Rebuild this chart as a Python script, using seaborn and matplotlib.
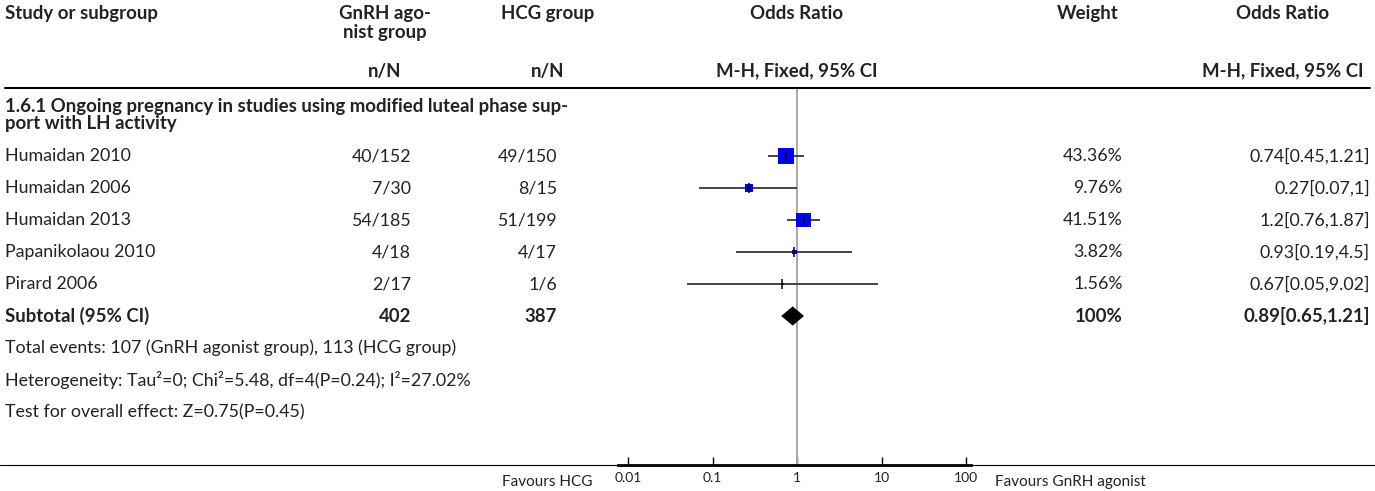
import numpy as np
import pandas as pd
import matplotlib.pyplot as plt
import seaborn as sns
from matplotlib.ticker import NullLocator

# =========================================================
# DATA
# =========================================================
studies = ["Humaidan 2010", "Humaidan 2006", "Humaidan 2013", "Papanikolaou 2010", "Pirard 2006"]
gnrh_events = [40, 7, 54, 4, 2]
gnrh_total = [152, 30, 185, 18, 17]
hcg_events = [49, 8, 51, 4, 1]
hcg_total = [150, 15, 199, 17, 6]
odds_ratio = [0.74, 0.27, 1.2, 0.93, 0.67]
ci_low = [0.45, 0.07, 0.76, 0.19, 0.05]
ci_high = [1.21, 1, 1.87, 4.5, 9.02]
weights = [43.36, 9.76, 41.51, 3.82, 1.56]
sub_or, sub_low, sub_high, sub_weight = 0.89, 0.65, 1.21, 100
axis_ticks = [0.01, 0.1, 1, 10, 100]
tick_labels = ["0.01", "0.1", "1", "10", "100"]

subgroup_title = "1.6.1 Ongoing pregnancy in studies using modified luteal phase sup-\nport with LH activity"
footer_lines = [
    "Total events: 107 (GnRH agonist group), 113 (HCG group)",
    "Heterogeneity: Tau\u00b2=0; Chi\u00b2=5.48, df=4(P=0.24); I\u00b2=27.02%",
    "Test for overall effect: Z=0.75(P=0.45)",
]

# =========================================================
# LAYOUT (pixels)
# =========================================================
W, H = 1375, 491
ROW0, STEP = 156, 32
AX_L, AX_R, AX_T, AX_B = 618, 971, 89, 465
PX_ONE, PX_DECADE = 797, 84.5
TXT = "#222222"
FS = 12.8
FSB = 13.4


def fmt(v):
    return f"{v:g}"


def ypx(i):
    return ROW0 + STEP * i


sns.set_theme(style="white")
plt.rcParams['font.family'] = ['Lato', 'DejaVu Sans']

fig = plt.figure(figsize=(W / 100, H / 100), dpi=100)
tab = fig.add_axes([0, 0, 1, 1])
tab.set_xlim(0, W)
tab.set_ylim(H, 0)
tab.axis('off')

# header
hdr = dict(fontsize=FSB, fontweight='bold', color=TXT, va='top')
tab.text(5, 5, "Study or subgroup", ha='left', **hdr)
tab.text(385, 5, "GnRH ago-\nnist group", ha='center', linespacing=1.12, **hdr)
tab.text(548, 5, "HCG group", ha='center', **hdr)
tab.text(797, 5, "Odds Ratio", ha='center', **hdr)
tab.text(1088, 5, "Weight", ha='center', **hdr)
tab.text(1283, 5, "Odds Ratio", ha='center', **hdr)
sub = dict(fontsize=FSB, fontweight='bold', color=TXT, va='center')
tab.text(385, 71, "n/N", ha='center', **sub)
tab.text(548, 71, "n/N", ha='center', **sub)
tab.text(797, 71, "M-H, Fixed, 95% CI", ha='center', **sub)
tab.text(1283, 71, "M-H, Fixed, 95% CI", ha='center', **sub)
tab.plot([5, 1370], [88, 88], color='black', lw=1.5)

tab.text(5, 115, subgroup_title, ha='left', va='center', fontsize=FSB,
         fontweight='bold', color=TXT, linespacing=1.02)

# study rows
row = dict(fontsize=FS, color=TXT, va='center')
for i, name in enumerate(studies):
    y = ypx(i)
    tab.text(5, y, name, ha='left', **row)
    tab.text(411, y, f"{gnrh_events[i]}/{gnrh_total[i]}", ha='right', **row)
    tab.text(557, y, f"{hcg_events[i]}/{hcg_total[i]}", ha='right', **row)
    tab.text(1123, y, f"{fmt(weights[i])}%", ha='right', **row)
    tab.text(1370, y, f"{fmt(odds_ratio[i])}[{fmt(ci_low[i])},{fmt(ci_high[i])}]", ha='right', **row)

# subtotal
y = ypx(len(studies))
brow = dict(row, fontweight='bold', fontsize=FSB)
tab.text(5, y, "Subtotal (95% CI)", ha='left', **brow)
tab.text(411, y, f"{sum(gnrh_total)}", ha='right', **brow)
tab.text(557, y, f"{sum(hcg_total)}", ha='right', **brow)
tab.text(1123, y, f"{fmt(sub_weight)}%", ha='right', **brow)
tab.text(1370, y, f"{fmt(sub_or)}[{fmt(sub_low)},{fmt(sub_high)}]", ha='right', **brow)

for k, line in enumerate(footer_lines):
    tab.text(5, ypx(len(studies) + 1 + k), line, ha='left', **row)

# bottom rule + favours labels
tab.plot([0, W], [AX_B, AX_B], color='black', lw=0.8)
tab.text(593, 482, "Favours HCG", ha='right', va='center', fontsize=11, color=TXT)
tab.text(995, 482, "Favours GnRH agonist", ha='left', va='center', fontsize=11, color=TXT)

# =========================================================
# FOREST PANEL
# =========================================================
fa = fig.add_axes([AX_L / W, 1 - AX_B / H, (AX_R - AX_L) / W, (AX_B - AX_T) / H])
fa.patch.set_alpha(0)
fa.set_xscale('log')
fa.set_xlim(10 ** ((AX_L - PX_ONE) / PX_DECADE), 10 ** ((AX_R - PX_ONE) / PX_DECADE))
fa.set_ylim((AX_B - ROW0) / STEP, (AX_T - ROW0) / STEP)

rows = np.arange(len(studies))
df = pd.DataFrame({"or": odds_ratio, "row": rows, "weight": weights})

fa.axvline(1, color='#aaaaaa', lw=1.4, zorder=1)
fa.hlines(rows, ci_low, ci_high, color='#444444', lw=1.4, zorder=2)
sns.scatterplot(data=df, x="or", y="row", size="weight",
                sizes=(min(weights) * 2.8, max(weights) * 2.8),
                size_norm=(min(weights), max(weights)),
                marker='s', color='#0000ff', linewidth=0, legend=False,
                ax=fa, zorder=3)
fa.plot(odds_ratio, rows, ls='none', marker='|', ms=7, mew=1.1, color='black', zorder=4)

yd = len(studies)
fa.fill([sub_low, sub_or, sub_high, sub_or], [yd, yd - 0.3, yd, yd + 0.3],
        color='black', lw=0, zorder=3)

for s in ['left', 'right', 'top']:
    fa.spines[s].set_visible(False)
fa.spines['bottom'].set_linewidth(2)
fa.spines['bottom'].set_color('black')
fa.set_xticks(axis_ticks)
fa.set_xticklabels(tick_labels)
fa.xaxis.set_minor_locator(NullLocator())
fa.tick_params(axis='x', direction='in', length=6, width=1, labelsize=10,
               pad=5, colors='black', labelcolor=TXT, bottom=True)
fa.set_yticks([])
fa.set_xlabel("")
fa.set_ylabel("")

fig.savefig("out.png", dpi=100)
